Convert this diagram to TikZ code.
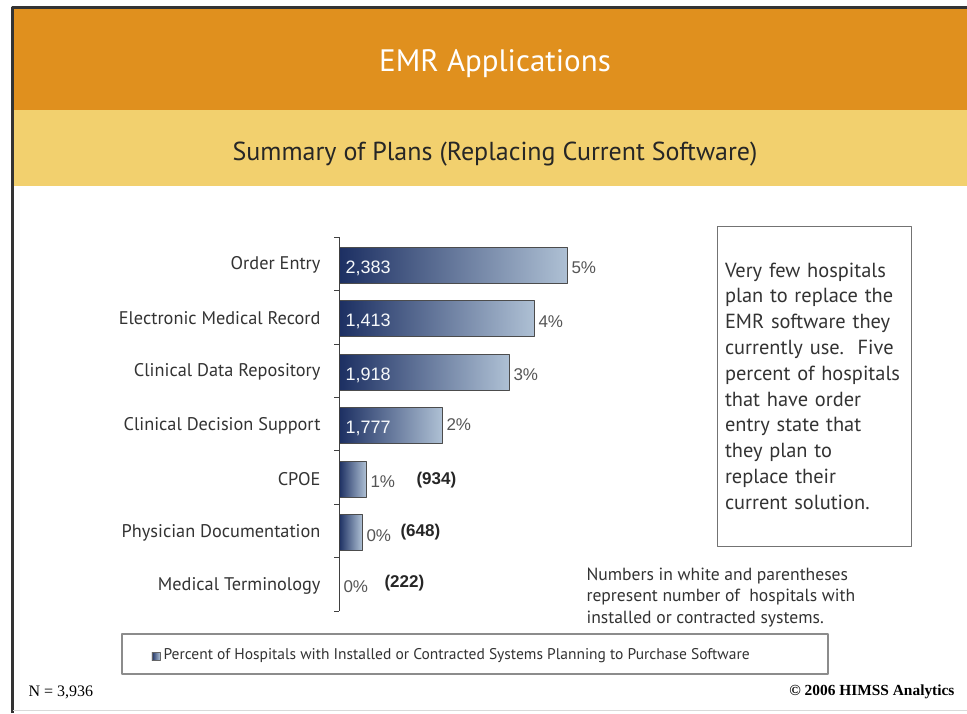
\documentclass[tikz,border=0pt]{standalone}
\usepackage{fontspec}
\setmainfont{PT Sans}
\newfontfamily\numfont{Liberation Sans}
\newfontfamily\serfont{Liberation Serif}
\usetikzlibrary{positioning}
\definecolor{bandorange}{HTML}{E0901E}
\definecolor{bandyellow}{HTML}{F2D06E}
\definecolor{barnavy}{HTML}{1C2F62}
\definecolor{barlight}{HTML}{AEC0D4}
\definecolor{txtgray}{HTML}{333333}
\definecolor{pctgray}{HTML}{555555}
\begin{document}
\begin{tikzpicture}[x=1pt, y=-1pt, line join=round,
  bar/.style={draw=black!70, line width=0.9pt, left color=barnavy, right color=barlight},
  cat/.style={anchor=east, text=txtgray, font=\fontsize{18.3}{20}\selectfont},
  inval/.style={anchor=west, text=white!90!barlight, font=\numfont\fontsize{18}{20}\selectfont},
  pct/.style={anchor=west, text=pctgray, font=\numfont\fontsize{17}{20}\selectfont},
  paren/.style={anchor=west, text=black!85, font=\numfont\bfseries\fontsize{17}{20}\selectfont},
  box/.style={draw=black!55, line width=1pt}]
\useasboundingbox (0,0) rectangle (967,713);
\fill[white] (0,0) rectangle (967,713);
\fill[bandorange] (12,7) rectangle (967,110);
\fill[bandyellow] (12,110) rectangle (967,186);
\draw[black!80, line width=3pt] (12,713) -- (12,7) -- (967,7);
\draw[black!15] (13,710) -- (967,710);
\node[text=white, font=\fontsize{31}{34}\selectfont] (title) at (495,64) {EMR Applications};
\node[text=black!85, font=\fontsize{26}{28}\selectfont] (subtitle) at (495,154) {Summary of Plans (Replacing Current Software)};
% bars
\foreach \lab/\len/\pc/\dy [count=\i] in {Order Entry/567/5/3, Electronic Medical Record/534/4/3,
    Clinical Data Repository/509/3/3, Clinical Decision Support/442/2/-1, CPOE/366/1/3,
    Physician Documentation/362/0/3, Medical Terminology/339/0/1}{
  \pgfmathsetmacro\yc{265+53.5*(\i-1)}
  \ifnum\len>339 \draw[bar] (339,\yc-18) rectangle (\len,\yc+18); \fi
  \node[cat] (cat\i) at (324,\yc) {\lab};
  \node[pct] (pct\i) at (\len+1,\yc+\dy) {\pc\%};
}
\foreach \inn [count=\i] in {{2,383},{1,413},{1,918},{1,777}}
  \node[inval] (val\i) at (342,{268+53.5*(\i-1)}) {\inn};
\node[paren] (cnt5) at (413,480) {(934)};
\node[paren] (cnt6) at (397,532) {(648)};
\node[paren] (cnt7) at (381,583) {(222)};
% axis
\draw[black!75, line width=1pt] (339,237) -- (339,611);
\foreach \t in {0,...,7} \draw[black!75] (334,{237+53.4*\t}) -- (339,{237+53.4*\t});
% note
\node[box, minimum width=194, minimum height=320, text width=178, align=left, text=txtgray,
  font=\fontsize{20.4}{25.8}\selectfont] (note) at (814,386)
  {Very few hospitals\\ plan to replace the\\ EMR software they\\ currently use.\ \ Five\\
   percent of hospitals\\ that have order\\ entry state that\\ they plan to\\ replace their\\ current solution.};
\node[anchor=north west, align=left, text=txtgray, font=\fontsize{17.6}{21.5}\selectfont] (hint) at (583,564)
  {Numbers in white and parentheses\\ represent number of\ \ hospitals with\\ installed or contracted systems.};
% legend
\node[box, draw=black!45, line width=1.5pt, minimum width=706, minimum height=40] (legend) at (475,654) {};
\node[anchor=west, text=txtgray, font=\fontsize{15.5}{17}\selectfont] (legtxt) at (160,656)
  {Percent of Hospitals with Installed or Contracted Systems Planning to Purchase Software};
\node[draw=black!60, left color=barnavy, right color=barlight, minimum size=8, inner sep=0pt,
  left=0pt of legtxt] (legkey) {};
\node[anchor=west, font=\serfont\fontsize{16}{18}\selectfont] (nsize) at (25,692) {N = 3,936};
\node[anchor=east, font=\serfont\bfseries\fontsize{15.4}{17}\selectfont] (copy) at (958,692) {© 2006 HIMSS Analytics};
\end{tikzpicture}
\end{document}
